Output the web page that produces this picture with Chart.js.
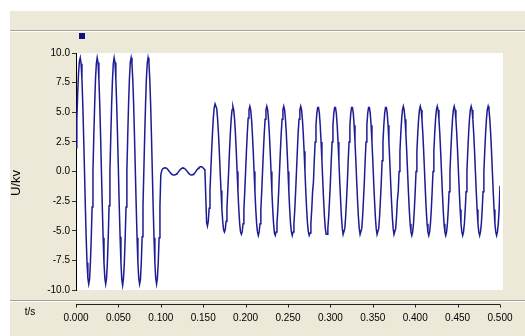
<!DOCTYPE html>
<html>
<head>
<meta charset="utf-8">
<script src="https://cdn.jsdelivr.net/npm/chart.js@4.4.1/dist/chart.umd.min.js"></script>
<style>
  html, body { margin: 0; padding: 0; background: #fff; }
  #wrap { width: 525px; height: 336px; }
</style>
</head>
<body>
<div id="wrap"><canvas id="c" width="525" height="336"></canvas></div>
<script>
const sampleStep = 0.001; // 1 ms between samples, first sample at t = 0

// U/kV, one line per 20 ms cycle
const preFault = [ // 0 .. 99 ms
  2.0, 4.4, 6.6, 8.3, 9.3, 9.6, 9.1, 7.8, 5.7, 3.0, 0.1, -2.9, -5.6, -7.7, -9.0, -9.5, -9.1, -7.7, -5.6, -3.0,
  0.0, 3.0, 5.6, 7.8, 9.1, 9.6, 9.2, 7.8, 5.7, 3.0, 0.0, -2.9, -5.6, -7.7, -9.0, -9.5, -9.0, -7.7, -5.6, -2.9,
  0.0, 2.9, 5.6, 7.7, 9.1, 9.6, 9.2, 7.8, 5.6, 3.0, 0.1, -2.9, -5.5, -7.7, -9.1, -9.6, -9.0, -7.7, -5.6, -3.0,
  0.0, 3.0, 5.7, 7.8, 9.2, 9.6, 9.1, 7.7, 5.6, 2.9, 0.0, -2.9, -5.6, -7.7, -9.0, -9.5, -9.1, -7.7, -5.5, -2.9,
  0.0, 3.0, 5.6, 7.8, 9.1, 9.6, 9.2, 7.8, 5.7, 3.0, 0.0, -3.0, -5.6, -7.7, -9.0, -9.5, -9.0, -7.7, -5.6, -2.9
];
const gap = [ // 100 .. 179 ms
  -0.3, 0.05, 0.2, 0.27, 0.3, 0.32, 0.3, 0.26, 0.19, 0.1,
  0.0, -0.09, -0.17, -0.23, -0.27, -0.29, -0.3, -0.28, -0.24, -0.18,
  -0.1, -0.01, 0.08, 0.16, 0.23, 0.28, 0.3, 0.29, 0.25, 0.19,
  0.1, 0.01, -0.08, -0.16, -0.22, -0.27, -0.29, -0.29, -0.26, -0.2,
  -0.12, -0.03, 0.07, 0.17, 0.26, 0.33, 0.38, 0.4, 0.4, 0.37,
  0.3, 0.22, 0.1, -2.0, -4.3, -4.6, -4.2, -3.1, -1.6, 0.1,
  1.8, 3.3, 4.6, 5.4, 5.7, 5.7, 5.3, 4.4, 3.2, 1.7,
  0.0, -1.6, -3.1, -4.2, -4.9, -5.1, -4.9, -4.2, -3.1, -1.6
];
const recovery = [ // 180 .. 500 ms
  0.0, 1.7, 3.2, 4.4, 5.2, 5.5, 5.2, 4.4, 3.2, 1.7, 0.0, -1.7, -3.2, -4.4, -5.1, -5.3, -5.1, -4.4, -3.2, -1.7,
  0.0, 1.7, 3.2, 4.5, 5.2, 5.5, 5.2, 4.4, 3.2, 1.7, 0.0, -1.7, -3.2, -4.4, -5.1, -5.4, -5.1, -4.4, -3.2, -1.7,
  0.0, 1.7, 3.2, 4.4, 5.2, 5.5, 5.2, 4.4, 3.2, 1.7, 0.0, -1.7, -3.2, -4.4, -5.2, -5.4, -5.1, -4.4, -3.2, -1.7,
  0.0, 1.7, 3.2, 4.4, 5.2, 5.5, 5.2, 4.4, 3.2, 1.7, 0.0, -1.7, -3.2, -4.4, -5.1, -5.4, -5.1, -4.4, -3.2, -1.7,
  0.0, 1.7, 3.3, 4.4, 5.2, 5.5, 5.2, 4.4, 3.2, 1.7, 0.0, -1.7, -3.2, -4.4, -5.1, -5.4, -5.2, -4.4, -3.2, -1.7,
  -0.9, 0.9, 2.5, 3.9, 4.9, 5.4, 5.4, 4.9, 3.9, 2.5, 0.9, -0.8, -2.4, -3.8, -4.8, -5.3, -5.3, -4.8, -3.8, -2.4,
  -0.9, 0.9, 2.5, 3.9, 4.9, 5.4, 5.4, 4.9, 3.9, 2.5, 0.9, -0.8, -2.4, -3.8, -4.8, -5.3, -5.3, -4.8, -3.8, -2.4,
  -0.9, 0.9, 2.5, 3.9, 4.9, 5.4, 5.4, 4.9, 3.9, 2.5, 0.9, -0.8, -2.4, -3.8, -4.8, -5.3, -5.3, -4.8, -3.8, -2.4,
  -0.9, 0.9, 2.5, 3.9, 4.9, 5.4, 5.4, 4.9, 3.9, 2.5, 0.9, -0.8, -2.4, -3.8, -4.8, -5.3, -5.3, -4.8, -3.8, -2.4,
  -0.9, 0.9, 2.5, 3.9, 4.9, 5.4, 5.4, 4.9, 3.9, 2.5, 0.9, -0.8, -2.4, -3.8, -4.8, -5.3, -5.3, -4.8, -3.8, -2.4,
  -1.7, 0.0, 1.7, 3.2, 4.4, 5.2, 5.5, 5.2, 4.4, 3.2, 1.7, 0.0, -1.7, -3.2, -4.4, -5.1, -5.4, -5.1, -4.4, -3.2,
  -1.7, 0.0, 1.7, 3.2, 4.4, 5.2, 5.5, 5.2, 4.4, 3.2, 1.7, 0.0, -1.7, -3.2, -4.4, -5.1, -5.4, -5.1, -4.4, -3.2,
  -1.7, 0.0, 1.7, 3.2, 4.4, 5.2, 5.5, 5.2, 4.4, 3.2, 1.7, 0.0, -1.7, -3.2, -4.4, -5.1, -5.4, -5.1, -4.4, -3.2,
  -1.7, 0.0, 1.7, 3.2, 4.4, 5.2, 5.5, 5.2, 4.4, 3.2, 1.7, 0.0, -1.7, -3.2, -4.4, -5.1, -5.4, -5.1, -4.4, -3.2,
  -1.7, 0.0, 1.7, 3.2, 4.4, 5.2, 5.5, 5.2, 4.4, 3.2, 1.7, 0.0, -1.7, -3.2, -4.4, -5.1, -5.4, -5.1, -4.4, -3.2,
  -1.7, 0.0, 1.7, 3.2, 4.4, 5.2, 5.5, 5.2, 4.4, 3.2, 1.7, 0.0, -1.7, -3.2, -4.4, -5.1, -5.4, -5.1, -4.4, -3.2,
  -1.2
];

const timeTicks = [0, 0.05, 0.1, 0.15, 0.2, 0.25, 0.3, 0.35, 0.4, 0.45, 0.5];
const voltTicks = [10, 7.5, 5, 2.5, 0, -2.5, -5, -7.5, -10];

const traceColor = "#1c1c94";
const beige = "#ece9d8";
const tickFont = { family: "'Liberation Sans', Arial, sans-serif", size: 10 };

const voltage = preFault.concat(gap, recovery);
const points = voltage.map((v, i) => ({ x: i * sampleStep, y: v }));

// window-style panel behind the plot
const panel = {
  id: "panel",
  beforeDraw(chart) {
    const { ctx, width, height, chartArea: { left, top, right, bottom } } = chart;
    ctx.save();
    ctx.fillStyle = "#fff";
    ctx.fillRect(0, 0, width, height);
    ctx.fillStyle = beige;
    ctx.fillRect(10, 11, width - 10, height - 11);

    // separators
    ctx.fillStyle = "#a5a396";
    ctx.fillRect(10, 30, width - 10, 1);
    ctx.fillRect(10, 300, width - 10, 1);
    ctx.fillStyle = "#fff";
    ctx.fillRect(10, 31, width - 10, 1);
    ctx.fillRect(10, 301, width - 10, 1);

    // plot background
    ctx.fillStyle = "#fff";
    ctx.fillRect(left, top, right + 3 - left, bottom - top);

    // series marker
    ctx.fillStyle = "#101080";
    ctx.fillRect(79, 33, 6, 6);
    ctx.restore();
  }
};

// time axis sits below the separator, apart from the plot
const timeAxis = {
  id: "timeAxis",
  afterDraw(chart) {
    const { ctx, scales: { x } } = chart;
    const y0 = 304.5;
    ctx.save();
    ctx.strokeStyle = "#222";
    ctx.lineWidth = 1;
    ctx.beginPath();
    ctx.moveTo(x.left, y0);
    ctx.lineTo(x.right, y0);
    x.ticks.forEach(t => {
      const px = Math.round(x.getPixelForValue(t.value)) + 0.5;
      ctx.moveTo(px, y0);
      ctx.lineTo(px, y0 + 3);
    });
    ctx.stroke();

    ctx.fillStyle = "#000";
    ctx.textAlign = "center";
    ctx.textBaseline = "middle";
    ctx.font = "10px 'Liberation Sans', sans-serif";
    ctx.fillText("t/s", 30, 312);

    ctx.translate(16, 183);
    ctx.rotate(-Math.PI / 2);
    ctx.font = "13px 'Liberation Sans', sans-serif";
    ctx.fillText("U/kv", 0, 0);
    ctx.restore();
  }
};

new Chart(document.getElementById("c"), {
  type: "line",
  data: {
    datasets: [{
      data: points,
      borderColor: traceColor,
      borderWidth: 1.5,
      pointRadius: 0,
      tension: 0,
      fill: false
    }]
  },
  options: {
    responsive: false,
    animation: false,
    layout: { padding: { top: 53, right: 25, left: 0, bottom: 0 } },
    plugins: {
      legend: { display: false },
      tooltip: { enabled: false }
    },
    scales: {
      x: {
        type: "linear",
        min: 0,
        max: 0.5,
        afterBuildTicks: s => { s.ticks = timeTicks.map(v => ({ value: v })); },
        afterFit: s => { s.height = 46; },
        // hidden tick marks only push the labels down below the separator
        grid: { display: false, drawTicks: true, tickLength: 22 },
        border: { display: false },
        ticks: {
          padding: 0,
          autoSkip: false,
          maxRotation: 0,
          color: "#000",
          font: tickFont,
          callback: v => Number(v).toFixed(3)
        }
      },
      y: {
        min: -10,
        max: 10,
        afterBuildTicks: s => { s.ticks = voltTicks.map(v => ({ value: v })); },
        afterFit: s => { s.width = 76; },
        grid: { drawOnChartArea: false, tickLength: 4, color: "#333" },
        border: { color: "#000" },
        ticks: {
          padding: 2,
          autoSkip: false,
          color: "#000",
          font: tickFont,
          callback: v => Number(v).toFixed(1)
        }
      }
    }
  },
  plugins: [panel, timeAxis]
});
</script>
</body>
</html>
